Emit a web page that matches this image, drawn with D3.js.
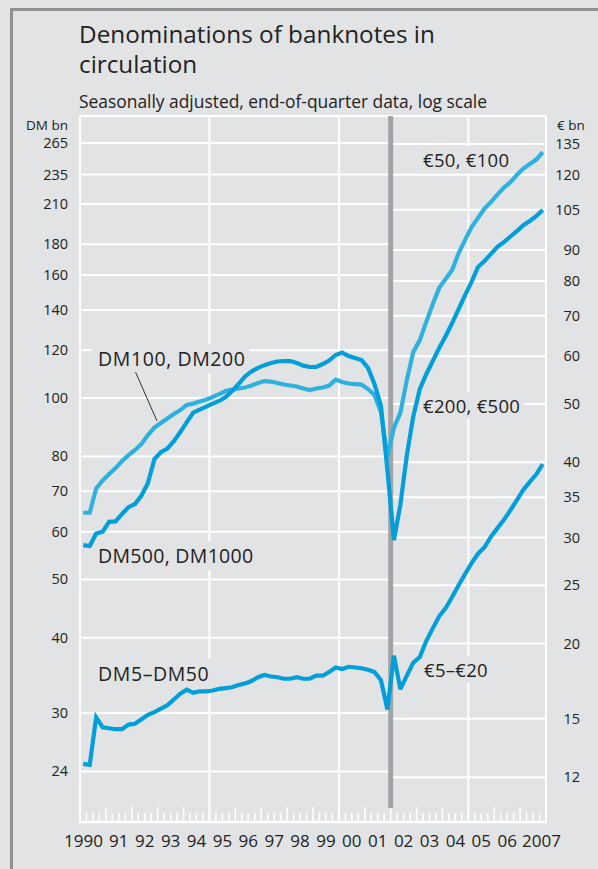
<!DOCTYPE html>
<html>
<head>
<meta charset="utf-8">
<script src="https://d3js.org/d3.v7.min.js"></script>
<style>
  body { margin: 0; background: #e2e3e5; }
  svg { display: block; font-family: 'Open Sans', sans-serif; }
</style>
</head>
<body>
<script>
// DM series, end of quarter, 1990Q1 - 2001Q4 (DM bn)
var dm100_200 = [64.5, 64.5, 70.8, 73.0, 74.8, 76.5, 78.6, 80.4, 82.0, 83.9, 86.8, 89.3,
                 90.9, 92.5, 94.1, 95.5, 97.4, 97.9, 98.7, 99.4, 100.4, 101.5, 102.7, 103.3,
                 103.7, 104.1, 104.9, 105.9, 106.7, 106.5, 105.9, 105.3, 104.9, 104.5, 103.7, 103.1,
                 103.7, 104.1, 104.9, 107.3, 106.3, 105.7, 105.5, 105.3, 103.5, 101.2, 94.8, 79.8];
var dm500_1000 = [57.0, 56.8, 59.6, 60.0, 62.3, 62.4, 64.2, 65.9, 66.7, 68.9, 72.3, 79.2,
                  81.3, 82.4, 84.8, 87.8, 91.2, 94.6, 95.7, 96.8, 97.9, 98.9, 100.4, 102.7,
                  105.5, 108.6, 110.7, 112.2, 113.4, 114.3, 115.0, 115.2, 115.2, 114.3, 113.2, 112.6,
                  112.6, 113.9, 115.4, 117.9, 119.0, 117.4, 116.5, 115.6, 112.2, 105.5, 97.0, 75.9];
var dm5_50 = [24.7, 24.6, 29.5, 28.4, 28.3, 28.2, 28.2, 28.7, 28.8, 29.3, 29.8, 30.1,
              30.5, 30.9, 31.6, 32.3, 32.8, 32.4, 32.6, 32.6, 32.7, 32.9, 33.0, 33.1,
              33.4, 33.6, 33.9, 34.4, 34.7, 34.5, 34.4, 34.2, 34.2, 34.4, 34.2, 34.2,
              34.6, 34.6, 35.1, 35.7, 35.5, 35.8, 35.7, 35.6, 35.4, 35.1, 34.0, 30.4];

// euro series, end of quarter, 2002Q1 - 2007Q4 (€ bn)
var eur50_100 = [45.6, 48.3, 54.8, 61.0, 63.8, 68.4, 73.2, 77.9, 80.6, 83.4, 89.0, 93.6,
                 98.3, 101.8, 105.5, 108.2, 111.3, 114.3, 116.7, 119.9, 122.9, 125.1, 127.2, 130.9];
var eur200_500 = [29.7, 34.0, 41.1, 47.7, 52.9, 56.0, 58.9, 61.9, 64.8, 68.1, 71.8, 75.8,
                  79.7, 84.4, 86.3, 88.7, 91.1, 92.8, 94.8, 96.8, 99.0, 100.6, 102.5, 104.9];
var eur5_20 = [19.1, 16.8, 17.7, 18.6, 19.0, 20.2, 21.2, 22.2, 22.9, 23.9, 25.0, 26.1,
               27.2, 28.2, 28.9, 30.1, 31.1, 32.1, 33.3, 34.6, 36.0, 37.1, 38.2, 39.7];

var dmTicks = [24, 30, 40, 50, 60, 70, 80, 100, 120, 140, 160, 180, 210, 235, 265];
var eurTicks = [12, 15, 20, 25, 30, 35, 40, 50, 60, 70, 80, 90, 105, 120, 135];
var yearLabels = ['1990', '91', '92', '93', '94', '95', '96', '97', '98', '99',
                  '00', '01', '02', '03', '04', '05', '06', '2007'];

var DM_PER_EUR = 1.95583;
var lightBlue = '#2fb1de',
    darkBlue = '#009fd9',
    bg = '#e2e3e5';

var W = 598, H = 869;
var svg = d3.select('body').append('svg')
    .attr('width', W)
    .attr('height', H);

svg.append('rect').attr('width', W).attr('height', H).attr('fill', bg);
// frame (left and top only)
svg.append('path')
    .attr('d', 'M11.5,' + H + 'V9.5H' + W)
    .attr('fill', 'none')
    .attr('stroke', '#909296')
    .attr('stroke-width', 3);

// titles
svg.append('text').attr('x', 79).attr('y', 43)
    .style('font-size', '24.3px').attr('fill', '#222')
    .text('Denominations of banknotes in');
svg.append('text').attr('x', 79).attr('y', 73)
    .style('font-size', '24.3px').attr('fill', '#222')
    .text('circulation');
svg.append('text').attr('x', 79).attr('y', 108)
    .style('font-size', '17.4px').attr('fill', '#222')
    .text('Seasonally adjusted, end-of-quarter data, log scale');

// scales
var pL = 80, pR = 546, pT = 116, pB = 822;
var x = d3.scaleLinear().domain([1990, 2008]).range([pL, pR]);
var yDM = d3.scaleLog().domain([19.78, 293.9]).range([pB, pT]);
var yEUR = d3.scaleLog().domain([19.78 / DM_PER_EUR, 293.9 / DM_PER_EUR]).range([pB, pT]);
var xDiv = x(2002);

var grid = svg.append('g').attr('stroke', '#fff').attr('stroke-width', 2);

// horizontal gridlines: DM part and euro part
grid.selectAll('.gl').data(dmTicks).enter().append('line')
    .attr('x1', pL).attr('x2', xDiv)
    .attr('y1', function(d) { return yDM(d); })
    .attr('y2', function(d) { return yDM(d); });
grid.selectAll('.gr').data(eurTicks).enter().append('line')
    .attr('x1', xDiv).attr('x2', pR)
    .attr('y1', function(d) { return yEUR(d); })
    .attr('y2', function(d) { return yEUR(d); });

// vertical gridlines
grid.selectAll('.gv').data([1990, 1995, 2000, 2005, 2008]).enter().append('line')
    .attr('x1', function(d) { return x(d); })
    .attr('x2', function(d) { return x(d); })
    .attr('y1', pT).attr('y2', pB);
grid.append('line').attr('x1', pL).attr('x2', pR).attr('y1', pT).attr('y2', pT);
grid.append('line').attr('x1', pL - 1).attr('x2', pR + 1)
    .attr('y1', pB).attr('y2', pB).attr('stroke-width', 2.5);

// quarter ticks
var quarters = d3.range(1990, 2008.01, 0.25);
grid.selectAll('.tk').data(quarters).enter().append('line')
    .attr('x1', function(d) { return x(d); })
    .attr('x2', function(d) { return x(d); })
    .attr('y1', function(d) { return Math.abs(d - Math.round(d)) < 0.01 ? pB - 15 : pB - 9; })
    .attr('y2', pB)
    .attr('stroke-width', 1.5);

// euro cash changeover divider
svg.append('rect')
    .attr('x', xDiv - 2.5).attr('y', pT)
    .attr('width', 5).attr('height', 808 - pT)
    .attr('fill', '#a2a3a7');

// axis labels
var axisText = svg.append('g').attr('fill', '#222').style('font-size', '14.5px');
axisText.selectAll('.ld').data(dmTicks).enter().append('text')
    .attr('x', 68).attr('y', function(d) { return yDM(d); })
    .attr('dy', '0.35em').attr('text-anchor', 'end')
    .text(function(d) { return d; });
axisText.selectAll('.rd').data(eurTicks).enter().append('text')
    .attr('x', 580).attr('y', function(d) { return yEUR(d); })
    .attr('dy', '0.35em').attr('text-anchor', 'end')
    .text(function(d) { return d; });
axisText.append('text').attr('x', 68).attr('y', 130).attr('text-anchor', 'end')
    .style('font-size', '13.5px').text('DM bn');
axisText.append('text').attr('x', 557).attr('y', 130)
    .style('font-size', '13.5px').text('€ bn');

svg.append('g').attr('fill', '#222').style('font-size', '17px')
  .selectAll('text').data(yearLabels).enter().append('text')
    .attr('x', function(d, i) {
      if (i === 0) return x(1991) - 3;
      if (i === yearLabels.length - 1) return x(2007) + 2;
      return x(1990 + i + 0.5);
    })
    .attr('y', 847)
    .attr('text-anchor', function(d, i) {
      return i === 0 ? 'end' : (i === yearLabels.length - 1 ? 'start' : 'middle');
    })
    .text(function(d) { return d; });

// series labels with background boxes
var labels = [
  {text: 'DM100, DM200', x: 98, y: 366, fs: 19.5, ls: 0.6},
  {text: 'DM500, DM1000', x: 98, y: 563, fs: 19.5, ls: 0.3},
  {text: 'DM5\u2013DM50', x: 98, y: 681, fs: 19.5, ls: 0.6},
  {text: '€50, €100', x: 423, y: 167, fs: 18.5, ls: 0.3},
  {text: '€200, €500', x: 423, y: 413, fs: 18.5, ls: 0.3},
  {text: '€5\u2013€20', x: 424, y: 677, fs: 18.5, ls: 0.3}
];
var lab = svg.append('g');
labels.forEach(function(l) {
  var g = lab.append('g');
  var t = g.append('text').attr('x', l.x).attr('y', l.y)
      .style('font-size', l.fs + 'px').style('letter-spacing', l.ls + 'px')
      .attr('fill', '#222').text(l.text);
  var b = t.node().getBBox();
  g.insert('rect', 'text')
      .attr('x', b.x - 6).attr('y', b.y - 1)
      .attr('width', b.width + 10).attr('height', b.height + 2)
      .attr('fill', bg);
});

// leader line for DM100, DM200
svg.append('line')
    .attr('x1', 135.5).attr('y1', 372).attr('x2', 157).attr('y2', 421)
    .attr('stroke', '#333').attr('stroke-width', 1);

// build point lists through the scales
function points(dmVals, eurVals) {
  var pts = [];
  dmVals.forEach(function(v, i) {
    pts.push([x(1990 + (i + 0.5) / 4), yDM(v)]);
  });
  eurVals.forEach(function(v, i) {
    pts.push([x(2002 + (i + 0.5) / 4), yEUR(v)]);
  });
  return pts;
}

var line = d3.line();
var series = [
  {pts: points(dm5_50, eur5_20), color: darkBlue},
  {pts: points(dm100_200, eur50_100), color: lightBlue},
  {pts: points(dm500_1000, eur200_500), color: darkBlue}
];
svg.append('g').selectAll('path').data(series).enter().append('path')
    .attr('d', function(d) { return line(d.pts); })
    .attr('fill', 'none')
    .attr('stroke', function(d) { return d.color; })
    .attr('stroke-width', 4.2)
    .attr('stroke-linejoin', 'miter')
    .attr('stroke-miterlimit', 3);
</script>
</body>
</html>
